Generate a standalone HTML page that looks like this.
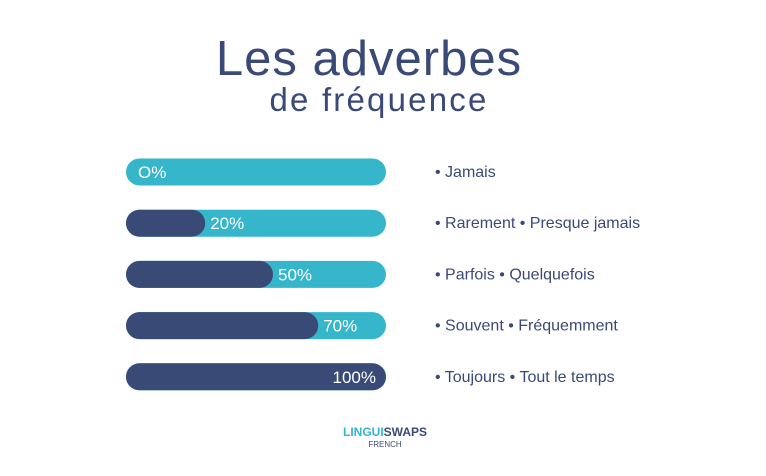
<!DOCTYPE html>
<html><head><meta charset="utf-8"><style>
body{margin:0;width:766px;height:476px;background:#fff;font-family:"Liberation Sans",sans-serif;overflow:hidden;position:relative}
.t{position:absolute;left:0;width:742px;text-align:center;color:#3a4a76;letter-spacing:1px}
</style></head><body>
<div class="t" style="top:33px;font-size:49px;line-height:52px;left:-2px">Les adverbes</div>
<div class="t" style="top:82px;font-size:33px;line-height:36px;left:8px;letter-spacing:2.2px">de fréquence</div>
<svg id="chart" width="766" height="476" style="position:absolute;left:0;top:0"></svg>
<div style="position:absolute;left:340px;top:425px;width:90px;text-align:center;font-weight:bold;font-size:12px;color:#3a4a76"><span style="color:#35b6cb">LINGUI</span>SWAPS<div style="font-size:8px;font-weight:normal;margin-top:1px">FRENCH</div></div>
<script>
const percents=[0,20,50,70,100];
const labels=["O%","20%","50%","70%","100%"];
const terms=["• Jamais","• Rarement • Presque jamais","• Parfois • Quelquefois","• Souvent • Fréquemment","• Toujours • Tout le temps"];
const svg=document.getElementById('chart');const NS='http://www.w3.org/2000/svg';
const x0=126,W=260,H=27;
const rowY=i=>172+i*51.2;
const fillW=v=>v<=0?0:Math.min(W,34+2.26*v);
percents.forEach((v,i)=>{
 const cy=rowY(i),y=cy-H/2;
 const bg=document.createElementNS(NS,'rect');
 
 
 bg.setAttribute('x',x0);bg.setAttribute('y',y);bg.setAttribute('width',W);bg.setAttribute('height',H);bg.setAttribute('rx',13.5);bg.setAttribute('fill','#35b6cb');svg.appendChild(bg);
 const fw=fillW(v);
 if(fw>0){const f=document.createElementNS(NS,'rect');
 
 
 f.setAttribute('x',x0);f.setAttribute('y',y);f.setAttribute('width',fw);f.setAttribute('height',H);f.setAttribute('rx',13.5);f.setAttribute('fill','#3a4a76');svg.appendChild(f);}
 const t=document.createElementNS(NS,'text');
 
 
 if(fw>=W-1){t.setAttribute('x',x0+W-10);t.setAttribute('text-anchor','end');}
 else t.setAttribute('x',fw>0?x0+fw+5:x0+12);
 t.setAttribute('y',cy+6);t.setAttribute('fill','#fff');t.setAttribute('font-size','17');t.setAttribute('font-family','Liberation Sans, sans-serif');t.textContent=labels[i];svg.appendChild(t);
 const l=document.createElementNS(NS,'text');
 
 
 l.setAttribute('x',435);l.setAttribute('y',cy+5);l.setAttribute('fill','#3a4a76');l.setAttribute('font-size','16');l.setAttribute('font-family','Liberation Sans, sans-serif');l.textContent=terms[i];svg.appendChild(l);
});
</script>
</body></html>
